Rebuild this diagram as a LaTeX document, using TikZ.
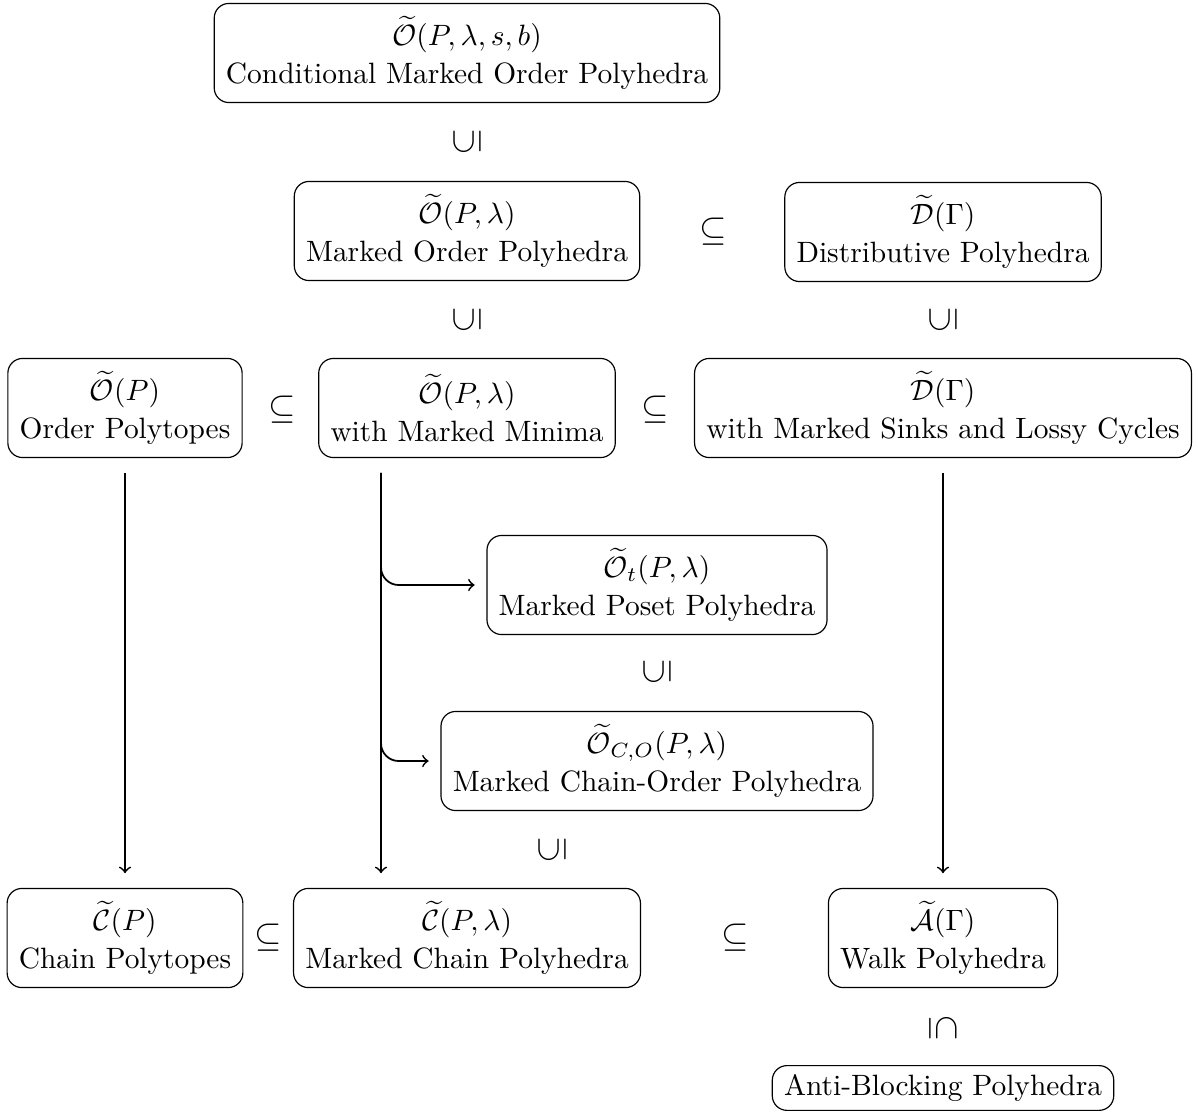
\documentclass[tikz,border=0pt]{standalone}
\usepackage{amssymb, amsmath}
\usepackage{graphicx}
\usepackage{tikz}
\usetikzlibrary{arrows}
\tikzstyle{poly}=[draw, shape=rectangle, rounded corners=5pt, align=center, inner xsep=4pt, inner ysep=3pt, minimum height=33.7pt]
\tikzstyle{rel}=[inner sep=0pt, font=\large]
\tikzstyle{imp}=[->, semithick, shorten <=5pt, shorten >=5pt]
\tikzset{>=to}
\newcommand{\upsub}{\rotatebox[origin=c]{90}{$\subseteq$}}
\newcommand{\downsub}{\rotatebox[origin=c]{-90}{$\subseteq$}}

\begin{document}
\begin{tikzpicture}[x=0.34pt, y=-0.34pt]
\useasboundingbox (0,0) rectangle (1198,1113);
% the polyhedra
\node[poly] (CM) at (467,53) {$\widetilde{\mathcal{O}}(P,\lambda,s,b)$\\[1pt]Conditional Marked Order Polyhedra};
\node[poly] (MO) at (467,231) {$\widetilde{\mathcal{O}}(P,\lambda)$\\[1pt]Marked Order Polyhedra};
\node[poly] (DP) at (943,232) {$\widetilde{\mathcal{D}}(\Gamma)$\\[1pt]Distributive Polyhedra};
\node[poly] (OP) at (125,408) {$\widetilde{\mathcal{O}}(P)$\\[1pt]Order Polytopes};
\node[poly] (MM) at (467,408) {$\widetilde{\mathcal{O}}(P,\lambda)$\\[1pt]with Marked Minima};
\node[poly] (DS) at (943,408) {$\widetilde{\mathcal{D}}(\Gamma)$\\[1pt]with Marked Sinks and Lossy Cycles};
\node[poly] (PP) at (657,585) {$\widetilde{\mathcal{O}}_t(P,\lambda)$\\[1pt]Marked Poset Polyhedra};
\node[poly] (CO) at (657,761) {$\widetilde{\mathcal{O}}_{C,O}(P,\lambda)$\\[1pt]Marked Chain-Order Polyhedra};
\node[poly] (CP) at (125,938) {$\widetilde{\mathcal{C}}(P)$\\[1pt]Chain Polytopes};
\node[poly] (MC) at (467,938) {$\widetilde{\mathcal{C}}(P,\lambda)$\\[1pt]Marked Chain Polyhedra};
\node[poly] (WP) at (943,938) {$\widetilde{\mathcal{A}}(\Gamma)$\\[1pt]Walk Polyhedra};
\node[poly, minimum height=0pt, anchor=north] (AB) at (943,1065) {Anti-Blocking Polyhedra};
% the inclusions
\node[rel] (R0) at (467,142) {\upsub};
\node[rel] (R1) at (713,232) {$\subseteq$};
\node[rel] (R2) at (467,320) {\upsub};
\node[rel] (R3) at (943,320) {\upsub};
\node[rel] (R4) at (282,410) {$\subseteq$};
\node[rel] (R5) at (655,410) {$\subseteq$};
\node[rel] (R6) at (657,672) {\upsub};
\node[rel] (R7) at (552,850) {\upsub};
\node[rel] (R8) at (268,938) {$\subseteq$};
\node[rel] (R9) at (735,938) {$\subseteq$};
\node[rel] (R10) at (943,1028) {\downsub};
% the maps
\coordinate (trunk) at (381,0);
\draw[imp] (OP) -- (CP);
\draw[imp] (DS) -- (WP);
\draw[imp] (trunk |- MM.south) -- (trunk |- MC.north);
\draw[imp, rounded corners=6pt, shorten >=4pt] (trunk |- MM.south) |- (PP.west);
\draw[imp, rounded corners=6pt, shorten >=4pt] (trunk |- MM.south) |- (CO.west);
\end{tikzpicture}
\end{document}
